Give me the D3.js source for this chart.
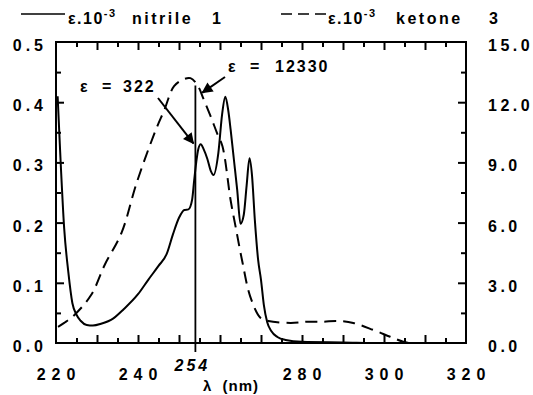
<!DOCTYPE html>
<html>
<head>
<meta charset="utf-8">
<script src="https://cdn.jsdelivr.net/npm/d3@7"></script>
<style>
  body { margin: 0; background: #fff; }
  svg text { font-family: 'Liberation Sans', Arial, sans-serif; font-weight: bold; fill: #000; }
  .ax path.domain { display: none; }
  .ax line { stroke: #000; stroke-width: 2px; }
</style>
</head>
<body>
<svg id="chart"></svg>
<script>
// nitrile 1 (solid, left axis) - wavelength / value pairs
const nitrileLambda = [220.4, 221, 222, 223, 224, 225, 226, 227.5, 229, 231, 234, 236.5, 240, 242.5, 245, 247, 248.5, 250, 251.3, 252.3, 253.2, 253.7, 254.2, 254.7, 255.3, 256, 256.9, 257.8, 258.4, 259.6, 260.5, 261.3, 262, 262.6, 263.4, 264.2, 265, 265.8, 266.5, 267.2, 267.8, 268.5, 269.3, 270, 270.7, 271.5, 272.5, 274, 276, 280, 290, 300, 310, 320];
const nitrileAbs = [0.41, 0.32, 0.19, 0.118, 0.066, 0.047, 0.037, 0.030, 0.029, 0.032, 0.041, 0.056, 0.081, 0.105, 0.128, 0.148, 0.18, 0.208, 0.221, 0.222, 0.238, 0.27, 0.30, 0.322, 0.33, 0.322, 0.306, 0.285, 0.279, 0.316, 0.379, 0.409, 0.387, 0.354, 0.304, 0.254, 0.198, 0.213, 0.262, 0.307, 0.279, 0.204, 0.138, 0.105, 0.063, 0.035, 0.020, 0.010, 0.005, 0.002, 0.001, 0.0, 0.0, 0.0];

// ketone 3 (dashed, right axis)
const ketoneLambda = [220.5, 222, 224.5, 228.6, 231.9, 236, 239.7, 244.3, 246.4, 248.8, 251.2, 252.8, 254.5, 256.1, 257.7, 259.3, 260.6, 262.6, 263.8, 265.4, 267.4, 269.9, 271.8, 277.2, 281.2, 285.2, 288.5, 292.5, 297.4, 301.5, 304.7, 306];
const ketoneEps = [0.8, 1.0, 1.4, 2.4, 3.9, 5.5, 8.0, 10.6, 11.6, 12.8, 13.15, 13.2, 12.85, 12.1, 11.3, 10.45, 9.8, 7.1, 5.8, 4.1, 2.3, 1.25, 1.1, 1.0, 1.06, 1.06, 1.1, 1.0, 0.65, 0.31, 0.06, 0.0];

const xTicks = [220, 240, 280, 300, 320];
const leftTicks = [0.0, 0.1, 0.2, 0.3, 0.4, 0.5];
const rightTicks = [0, 3, 6, 9, 12, 15];

const W = 533, H = 395;
const m = { left: 56, right: 466, top: 42, bottom: 343 };

const svg = d3.select('#chart').attr('width', W).attr('height', H);

const x = d3.scaleLinear().domain([220, 320]).range([m.left, m.right]);
const yL = d3.scaleLinear().domain([0, 0.5]).range([m.bottom, m.top]);
const yR = d3.scaleLinear().domain([0, 15]).range([m.bottom, m.top]);

// inward tick marks (no labels) - long every 10 nm / 0.1 / 3.0, short in between
const xMajor = d3.range(230, 320, 10);
const xMinor = d3.range(225, 320, 10);
const lMajor = [0.1, 0.2, 0.3, 0.4];
const lMinor = [0.05, 0.15, 0.25, 0.35, 0.45];
const rMajor = [3, 6, 9, 12];
const rMinor = [1.5, 4.5, 7.5, 10.5, 13.5];

const addAxis = (axis, tx, ty) => svg.append('g').attr('class', 'ax')
  .attr('transform', `translate(${tx},${ty})`)
  .call(axis.tickFormat(''));

addAxis(d3.axisBottom(x).tickValues(xMajor).tickSize(-8), 0, m.bottom);
addAxis(d3.axisBottom(x).tickValues(xMinor).tickSize(-5), 0, m.bottom);
addAxis(d3.axisTop(x).tickValues(xMajor).tickSize(-8), 0, m.top);
addAxis(d3.axisTop(x).tickValues(xMinor).tickSize(-5), 0, m.top);
addAxis(d3.axisLeft(yL).tickValues(lMajor).tickSize(-8), m.left, 0);
addAxis(d3.axisLeft(yL).tickValues(lMinor).tickSize(-5), m.left, 0);
addAxis(d3.axisRight(yR).tickValues(rMajor).tickSize(-8), m.right, 0);
addAxis(d3.axisRight(yR).tickValues(rMinor).tickSize(-5), m.right, 0);

// frame
svg.append('rect')
  .attr('x', m.left).attr('y', m.top)
  .attr('width', m.right - m.left).attr('height', m.bottom - m.top)
  .attr('fill', 'none').attr('stroke', '#000').attr('stroke-width', 2);

// tick labels
svg.selectAll('.xl').data(xTicks).enter().append('text')
  .attr('x', (d) => x(d) + 3).attr('y', 380)
  .attr('text-anchor', 'middle').attr('font-size', 16)
  .style('letter-spacing', '6px')
  .text((d) => d);
svg.append('text')
  .attr('x', x(254) - 3).attr('y', 371)
  .attr('text-anchor', 'middle').attr('font-size', 16)
  .style('font-style', 'italic').style('letter-spacing', '3px')
  .text('254');
svg.append('text')
  .attr('x', 231).attr('y', 391)
  .attr('text-anchor', 'middle').attr('font-size', 15)
  .style('letter-spacing', '1px')
  .attr('xml:space', 'preserve')
  .text('λ  (nm)');

svg.selectAll('.yl').data(leftTicks).enter().append('text')
  .attr('x', 47).attr('y', (d) => yL(d) + 9)
  .attr('text-anchor', 'end').attr('font-size', 16)
  .style('letter-spacing', '4px')
  .text((d) => d.toFixed(1));
svg.selectAll('.yr').data(rightTicks).enter().append('text')
  .attr('x', 488).attr('y', (d) => yR(d) + 9)
  .attr('text-anchor', 'start').attr('font-size', 16)
  .style('letter-spacing', '3.5px')
  .text((d) => d.toFixed(1));

// curves
const nitrile = nitrileLambda.map((l, i) => [l, nitrileAbs[i]]);
const ketone = ketoneLambda.map((l, i) => [l, ketoneEps[i]]);

svg.append('path')
  .datum(ketone)
  .attr('fill', 'none').attr('stroke', '#000').attr('stroke-width', 2)
  .attr('stroke-dasharray', '12,7')
  .attr('d', d3.line().curve(d3.curveCatmullRom).x((d) => x(d[0])).y((d) => yR(d[1])));

svg.append('path')
  .datum(nitrile)
  .attr('fill', 'none').attr('stroke', '#000').attr('stroke-width', 2)
  .attr('d', d3.line().curve(d3.curveMonotoneX).x((d) => x(d[0])).y((d) => yL(d[1])));

// 254 nm marker line
svg.append('line')
  .attr('x1', x(254)).attr('x2', x(254))
  .attr('y1', yR(12.33) - 10).attr('y2', m.bottom + 9)
  .attr('stroke', '#000').attr('stroke-width', 1.8);

// annotations with arrows
svg.append('defs').append('marker')
  .attr('id', 'arr').attr('viewBox', '0 0 10 10')
  .attr('refX', 9).attr('refY', 5)
  .attr('markerUnits', 'userSpaceOnUse')
  .attr('markerWidth', 12).attr('markerHeight', 11)
  .attr('orient', 'auto')
  .append('path').attr('d', 'M0,0 L10,5 L0,10 z').attr('fill', '#000');

const label = (parts) => {
  const t = svg.append('text').attr('font-size', 16).style('letter-spacing', '2px');
  parts.forEach(([px, py, s]) => t.append('tspan').attr('x', px).attr('y', py).text(s));
};
label([[80, 92, 'ε'], [102, 92, '='], [123, 92, '322']]);
svg.append('line')
  .attr('x1', 158).attr('y1', 98).attr('x2', x(254) - 2).attr('y2', yL(0.33) - 1)
  .attr('stroke', '#000').attr('stroke-width', 2).attr('marker-end', 'url(#arr)');

label([[228, 72, 'ε'], [250, 72, '='], [275, 72, '12330']]);
svg.append('line')
  .attr('x1', 225).attr('y1', 77).attr('x2', x(254) + 7).attr('y2', yR(12.33) - 3)
  .attr('stroke', '#000').attr('stroke-width', 2).attr('marker-end', 'url(#arr)');

// legend
svg.append('line').attr('x1', 21).attr('x2', 65).attr('y1', 14).attr('y2', 14)
  .attr('stroke', '#000').attr('stroke-width', 1.5);
const legend = (lx, name, nx, num, ux) => {
  const t = svg.append('text').attr('font-size', 16).style('letter-spacing', '1.5px');
  t.append('tspan').attr('x', lx).attr('y', 24).text('ε.10');
  t.append('tspan').attr('dy', -7).attr('font-size', 11).text('-3');
  t.append('tspan').attr('x', nx).attr('y', 24).style('letter-spacing', '2.5px').text(name);
  t.append('tspan').attr('x', ux).attr('y', 24).text(num);
};
legend(68, 'nitrile', 132, '1', 212);
svg.append('line').attr('x1', 281).attr('x2', 326).attr('y1', 14).attr('y2', 14)
  .attr('stroke', '#000').attr('stroke-width', 1.5).attr('stroke-dasharray', '11,6');
legend(328, 'ketone', 396, '3', 489);
</script>
</body>
</html>
